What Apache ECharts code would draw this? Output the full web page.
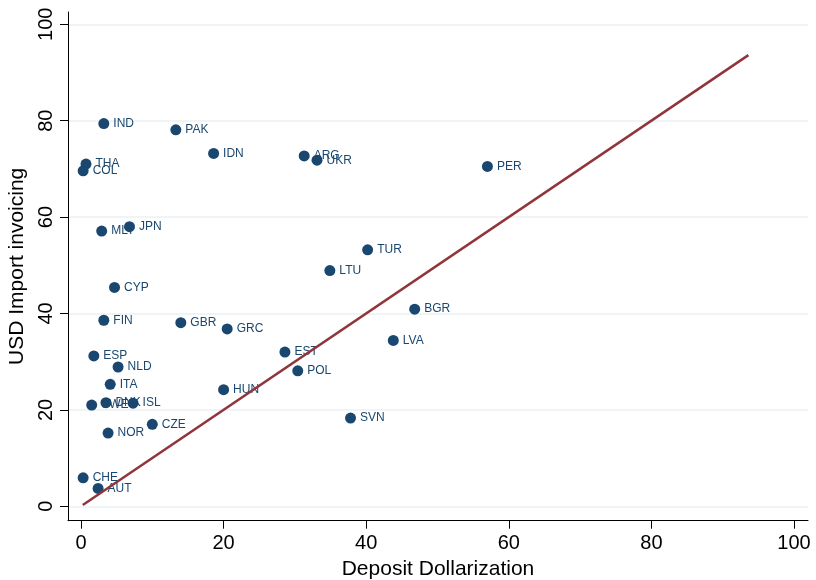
<!DOCTYPE html>
<html>
<head>
<meta charset="utf-8">
<script src="https://cdn.jsdelivr.net/npm/echarts@6/dist/echarts.min.js"></script>
<style>html,body{margin:0;padding:0;background:#fff;}#c{width:816px;height:580px;}</style>
</head>
<body>
<div id="c"></div>
<script>
const countries = ["IND","PAK","IDN","ARG","UKR","PER","THA","COL","JPN","MLT","TUR","LTU","CYP","BGR","FIN","GBR","GRC","LVA","EST","ESP","NLD","POL","ITA","HUN","DNK","ISL","SWE","SVN","CZE","NOR","CHE","AUT"];
const depositDollarization = [3.2,13.3,18.6,31.3,33.1,57.0,0.7,0.3,6.8,2.9,40.2,34.9,4.7,46.8,3.2,14.0,20.5,43.8,28.6,1.8,5.2,30.4,4.1,20.0,3.5,7.3,1.5,37.8,10.0,3.8,0.3,2.4];
const usdImportInvoicing = [79.4,78.1,73.2,72.7,71.8,70.5,71.0,69.6,58.0,57.1,53.2,48.9,45.4,40.9,38.6,38.1,36.8,34.4,32.0,31.2,28.9,28.1,25.3,24.2,21.5,21.4,21.0,18.3,17.0,15.2,5.9,3.7];
const fitLine = [[0.25,0.25],[93.6,93.6]];
const tickValues = [0,20,40,60,80,100];

const points = countries.map((c,i)=>({name:c, value:[depositDollarization[i], usdImportInvoicing[i]]}));
const chart = echarts.init(document.getElementById('c'));
const font = 'Liberation Sans, Arial, Helvetica, sans-serif';
chart.setOption({
  animation:false,
  backgroundColor:'#ffffff',
  grid:{left:68,right:8,top:12,bottom:59.3,containLabel:false,outerBoundsMode:'none'},
  xAxis:{
    type:'value', min:-1.823, max:101.96,
    name:'Deposit Dollarization', nameLocation:'middle', nameGap:37,
    nameTextStyle:{color:'#000',fontSize:21,fontFamily:font},
    axisLine:{show:true,onZero:false,lineStyle:{color:'#000',width:1}},
    axisTick:{show:true,length:8,customValues:tickValues,lineStyle:{color:'#000'}},
    axisLabel:{customValues:tickValues,color:'#000',fontSize:20,fontFamily:font,margin:13},
    splitLine:{show:false}
  },
  yAxis:{
    type:'value', min:-2.99, max:102.55,
    name:'USD Import invoicing', nameLocation:'middle', nameGap:34,
    nameTextStyle:{color:'#000',fontSize:21,fontFamily:font},
    axisLine:{show:true,onZero:false,lineStyle:{color:'#000',width:1}},
    axisTick:{show:true,length:8,customValues:tickValues,lineStyle:{color:'#000'}},
    axisLabel:{customValues:tickValues,color:'#000',fontSize:20,fontFamily:font,margin:12,rotate:90},
    splitLine:{show:true,lineStyle:{color:'#eaf2f3',width:1.5}}
  },
  series:[
    {type:'scatter', z:2, data:points, symbol:'circle', symbolSize:11,
     itemStyle:{color:'#1a476f',opacity:1},
     label:{show:true,position:'right',distance:4,formatter:'{b}',color:'#1a476f',fontSize:12,fontFamily:font}
    },
    {type:'line', z:3, data:fitLine, symbol:'none', lineStyle:{color:'#90353b',width:2.5}, silent:true}
  ]
});
</script>
</body>
</html>
